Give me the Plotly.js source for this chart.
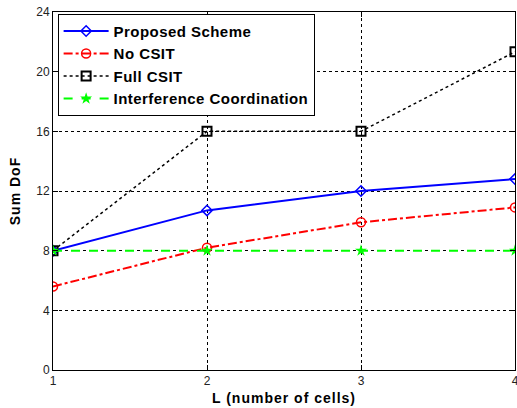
<!DOCTYPE html>
<html><head><meta charset="utf-8">
<script src="https://cdn.plot.ly/plotly-3.0.1.min.js"></script>
<style>
body{margin:0;background:#fff}#c{width:517px;height:408px}
.legendtext{letter-spacing:0.45px}
.xtitle,.ytitle{letter-spacing:1px}
</style>
</head><body><div id="c"></div>
<script>
const cells = [1, 2, 3, 4];
const proposed = [8, 10.7, 12, 12.8];
const noCsit = [5.6, 8.2, 9.9, 10.9];
const fullCsit = [8, 16, 16, 21.33];
const interference = [8, 8, 8, 8];
const xTicks = [1, 2, 3, 4];
const yTicks = [0, 4, 8, 12, 16, 20, 24];

const traces = [
  {x: cells, y: proposed, name: '<b>Proposed Scheme</b>', mode: 'lines+markers',
   line: {color: '#0000ff', width: 2}, marker: {symbol: 'diamond-open', size: 8, color: '#0000ff', line: {width: 1.5}}},
  {x: cells, y: noCsit, name: '<b>No CSIT</b>', mode: 'lines+markers',
   line: {color: '#ff0000', width: 2, dash: 'dashdot'}, marker: {symbol: 'circle-open', size: 9, color: '#ff0000', line: {width: 1.5}}},
  {x: cells, y: fullCsit, name: '<b>Full CSIT</b>', mode: 'lines+markers',
   line: {color: '#000000', width: 1.5, dash: 'dot'}, marker: {symbol: 'square-open', size: 9, color: '#000000', line: {width: 2}}},
  {x: cells, y: interference, name: '<b>Interference Coordination</b>', mode: 'lines+markers',
   line: {color: '#00ff00', width: 2, dash: 'dash'}, marker: {symbol: 'star', size: 9, color: '#00ff00'}}
];

const layout = {
  width: 517, height: 408,
  margin: {l: 53, r: 2, t: 12, b: 38},
  paper_bgcolor: '#fff', plot_bgcolor: '#fff',
  font: {family: 'Arial, Liberation Sans, sans-serif', size: 12, color: '#000'},
  showlegend: true,
  legend: {x: 0.01, y: 0.995, xanchor: 'left', yanchor: 'top', bgcolor: '#fff',
    bordercolor: '#000', borderwidth: 1, font: {size: 15}, itemwidth: 45, tracegroupgap: 0},
  xaxis: {range: [1, 4], tickvals: xTicks, ticktext: xTicks.map(String), ticklabeloverflow: 'allow',
    tickfont: {color: '#222'},
    showgrid: true, gridcolor: '#000', griddash: 'dot', gridwidth: 1,
    zeroline: false, showline: true, linecolor: '#000', linewidth: 1, mirror: 'ticks',
    ticks: 'inside', ticklen: 5, tickcolor: '#000',
    title: {text: '<b>L (number of cells)</b>', font: {size: 14}, standoff: 5}},
  yaxis: {range: [0, 24], tickvals: yTicks, ticktext: yTicks.map(String),
    tickfont: {color: '#222'},
    showgrid: true, gridcolor: '#000', griddash: 'dot', gridwidth: 1,
    zeroline: false, showline: true, linecolor: '#000', linewidth: 1, mirror: 'ticks',
    ticks: 'inside', ticklen: 5, tickcolor: '#000',
    title: {text: '<b>Sum DoF</b>', font: {size: 14}, standoff: 12}}
};
Plotly.newPlot('c', traces, layout, {displayModeBar: false, staticPlot: true});
</script></body></html>
